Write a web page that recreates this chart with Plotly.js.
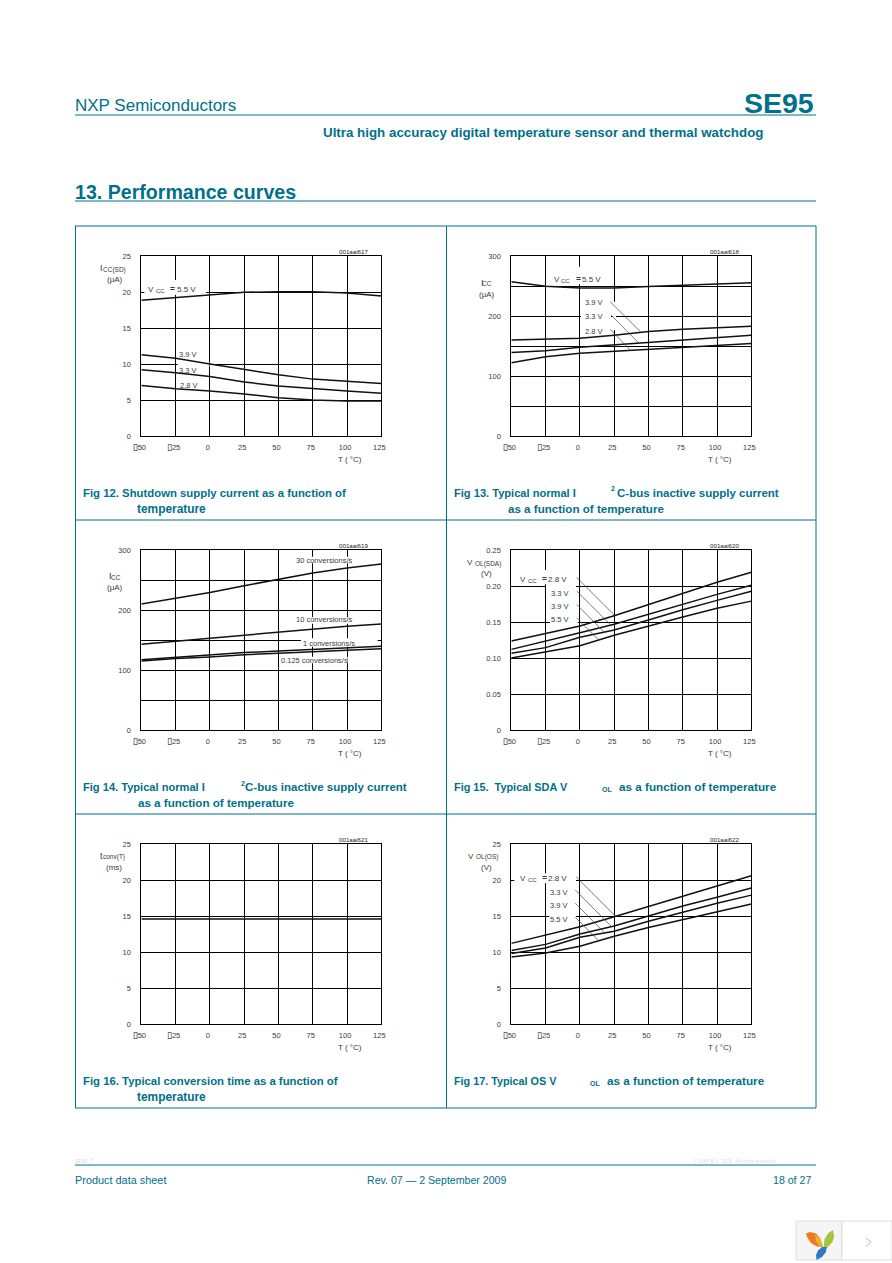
<!DOCTYPE html>
<html><head><meta charset="utf-8">
<script src="https://cdn.plot.ly/plotly-3.0.1.min.js"></script>
<style>html,body{margin:0;padding:0;background:#fff}#page{width:892px;height:1263px}</style>
</head><body><div id="page"></div>
<script>
// ---------- data ----------
const tempC = [-50,-25,0,25,50,75,100,125];
const tempTicks = [-50,-25,0,25,50,75,100,125];
const BOX = '<span style="font-family:DejaVu Sans;font-size:9px;font-weight:bold;color:#000">▯</span>';
const tempTickText = [BOX+'50',BOX+'25','0','25','50','75','100','125'];

const fig12_55 = [18.85,19.2,19.6,19.95,20.05,20.05,19.85,19.45];
const fig12_39 = [11.3,10.8,10.0,9.2,8.5,7.9,7.6,7.3];
const fig12_33 = [9.2,8.8,8.25,7.5,6.95,6.55,6.25,5.95];
const fig12_28 = [7.0,6.55,6.25,5.85,5.3,5.0,4.85,4.85];

const fig13_55 = [257,249.5,246.7,246.7,249,251.5,253.5,255.6];
const fig13_39 = [160,161,163,168,174,178,181,183];
const fig13_33 = [139,142,148,152,155.5,160.5,164,168];
const fig13_28 = [122,132,138,141,144,148,151,154];

const fig14_30 = [210,220,229,240.5,251.7,261.7,270,276.7];
const fig14_10 = [143,148,154,159,163,168,173,176.7];
const fig14_1 = [117,121,124,129,131.7,134.4,136.7,139.4];
const fig14_0125 = [115,119,121.7,125.6,127.8,130.6,132.8,135.6];

const fig15_28 = [0.1236,0.1338,0.1444,0.1588,0.1745,0.1903,0.2051,0.219];
const fig15_33 = [0.112,0.123,0.135,0.147,0.1606,0.175,0.1884,0.201];
const fig15_39 = [0.1065,0.1144,0.1287,0.139,0.1528,0.167,0.18,0.1926];
const fig15_55 = [0.1,0.108,0.117,0.1315,0.1444,0.157,0.169,0.179];

const fig16_conv = [14.6,14.6,14.6,14.6,14.6,14.6,14.6,14.6];

const fig17_28 = [11.2,12.36,13.5,14.9,16.3,17.8,19.2,20.6];
const fig17_33 = [10.2,11.06,12.5,13.6,15,16.4,17.6,18.9];
const fig17_39 = [9.8,10.56,12.04,12.87,14.26,15.56,16.76,17.9];
const fig17_55 = [9.3,9.86,10.8,12.2,13.4,14.5,15.6,16.67];

// leader lines: [x0,y0,x1,y1] in data units
const fig13_leaders = [[22,224,44.5,173],[22.7,201.7,43.3,154],[22,178,37.3,142]];
const fig15_leaders = [[-2.4,0.212,25.1,0.1597],[-2.4,0.193,23.2,0.1444],[-2.4,0.1745,17.8,0.1356],[-2.4,0.1556,13.7,0.125]];
const fig17_leaders = [[-2.8,20.46,25.8,15],[-3.3,18.6,23.2,13.5],[-3.3,16.76,17.8,12.7],[-3.3,14.8,13.7,11.6]];

const yTicks5 = [0,5,10,15,20,25];
const yText5 = ['0','5','10','15','20','25'];
const yTicks300 = [0,100,200,300];
const yText300 = ['0','100','200','300'];
const yTicksV = [0,0.05,0.10,0.15,0.20,0.25];
const yTextV = ['0','0.05','0.10','0.15','0.20','0.25'];

// ---------- page ----------
const W=892,H=1263, TEAL='#00718a', GREY='#3a3a3a';
const fx=x=>x/W, fy=y=>1-y/H;
const ann=[], shapes=[], traces=[], layout={};

function T(text,x,y,o={}){
  const a=o.a||'left';
  ann.push({text:text,xref:'paper',yref:'paper',x:fx(a==='left'?x-1:a==='right'?x+1:x),y:fy(y),showarrow:false,
    xanchor:a,yanchor:'middle',borderpad:0,
    font:{family:o.f||'"Liberation Sans",Arial,sans-serif',size:o.s||7.5,color:o.c||GREY}});
}
function L(x0,y0,x1,y1,c,w){shapes.push({type:'line',xref:'paper',yref:'paper',layer:'below',
  x0:fx(x0),y0:fy(y0),x1:fx(x1),y1:fy(y1),line:{color:c||TEAL,width:w||1}});}

function panel(n,cfg){
  const id=n===1?'':String(n), xk='xaxis'+id, yk='yaxis'+id, xr='x'+id, yr='y'+id;
  const ox=cfg.ox, oy=cfg.oy;
  const zx=z=>ox+z/3, zy=z=>oy+z/3;
  const left=zx(196), right=zx(916), top=zy(cfg.top), bot=zy(cfg.top+540);
  const ax={showgrid:true,gridcolor:'#000',gridwidth:1,showline:true,linecolor:'#000',linewidth:1,mirror:true,
    zeroline:false,ticks:'',tickfont:{family:'"Liberation Sans",Arial,sans-serif',size:7.5,color:GREY},anchor:yr};
  layout[xk]=Object.assign({},ax,{domain:[fx(left),fx(right)],range:[-50,125],tickmode:'array',
    tickvals:tempTicks,ticktext:tempTickText,ticklabelstandoff:4,ticklabelshift:-2,anchor:yr});
  layout[yk]=Object.assign({},ax,{domain:[fy(bot),fy(top)],range:cfg.range,tickmode:'array',
    tickvals:cfg.yticks,ticktext:cfg.ytext,ticklabelstandoff:8,anchor:xr});
  if(cfg.minor) layout[yk].minor={tick0:0,dtick:cfg.minor,showgrid:true,gridcolor:'#000',gridwidth:1,ticks:''};
  cfg.series.forEach(s=>traces.push({type:'scatter',mode:'lines',x:tempC,y:s,xaxis:xr,yaxis:yr,
    hoverinfo:'skip',showlegend:false,line:{color:'#111',width:1.5}}));
  (cfg.leaders||[]).forEach(l=>traces.push({type:'scatter',mode:'lines',x:[l[0],l[2]],y:[l[1],l[3]],xaxis:xr,yaxis:yr,
    hoverinfo:'skip',showlegend:false,line:{color:'#444',width:0.7}}));
  // white gaps behind the labels, above the grid and below the curves
  const dx=z=>-50+(z-196)/720*175, dy=z=>cfg.range[0]+(cfg.top+540-z)/540*(cfg.range[1]-cfg.range[0]);
  (cfg.gaps||[]).forEach(g=>shapes.push({type:'rect',xref:xr,yref:yr,layer:'between',
    x0:dx(g[0]),x1:dx(g[2]),y0:dy(g[1]),y1:dy(g[3]),fillcolor:'#fff',line:{width:0}}));
  (cfg.labels||[]).forEach(l=>T(l[0],zx(l[1]),zy(l[2]),{a:'center',s:l[3]||7.5}));
  T(cfg.id,zx(cfg.idx),zy(cfg.top-13),{a:'center',s:6.2,c:'#222'});
  T('T ( °C)',zx(821),zy(cfg.top+610),{a:'center',s:8});
  (cfg.ylab||[]).forEach(l=>T(l[0],zx(l[1]),zy(l[2]),{a:'center',s:l[3]||8}));
  (cfg.caption||[]).forEach(c=>T('<b>'+c[0]+'</b>',c[1],c[2],{s:c[3]||11.4,c:TEAL}));
}

// supply label built from separate pieces, spaced as on the page: V, CC, =, value
const VCC=(v,a,b,c,d,y)=>[['V',a,y,8],['CC',b,y+5,6],['<b>=</b>',c,y,8.5],[v,d,y,8]];
panel(1,{ox:76,oy:230,top:78,range:[0,25],yticks:yTicks5,ytext:yText5,id:'001aai617',idx:832,
  series:[fig12_55,fig12_39,fig12_33,fig12_28],
  gaps:[[205,150,390,194],[305,395,400,412]],
  labels:[...VCC('5.5 V',225,252,288,330,178),['3.9 V',337,375],['3.3 V',337,423],['2.8 V',340,465]],
  ylab:[['I',76,115,9],['CC(SD)',114,119,6.5],['(μA)',118,148]],
  caption:[['Fig 12. Shutdown supply current as a function of',83,493,11.35],['temperature',137,509,11.9]]});
panel(2,{ox:446,oy:230,top:78,range:[0,300],yticks:yTicks300,ytext:yText300,minor:50,id:'001aai618',idx:836,
  series:[fig13_55,fig13_39,fig13_33,fig13_28],leaders:fig13_leaders,
  gaps:[[320,135,465,163],[395,110,405,135],[405,250,495,270],[500,215,510,300]],
  labels:[...VCC('5.5 V',332,359,396,437,148),['3.9 V',445,218],['3.3 V',445,260],['2.8 V',445,303]],
  ylab:[['I',108,158,9],['CC',124,162,6.5],['(μA)',123,193]],
  caption:[['Fig 13. Typical normal I',454,493,11.1],['2',610.5,489,7],['C-bus inactive supply current',617,493,11.5],['as a function of temperature',508,508.5,11.6]]});
panel(3,{ox:76,oy:525,top:75,range:[0,300],yticks:yTicks300,ytext:yText300,minor:50,id:'001aai619',idx:833,
  series:[fig14_30,fig14_10,fig14_1,fig14_0125],
  gaps:[[660,95,830,115],[665,276,830,296],[675,340,905,365],[615,395,815,415]],
  labels:[['30 conversions/s',746,105],['10 conversions/s',746,285],['1 conversions/s',758,355],['0.125 conversions/s',716,405]],
  ylab:[['I',104,153,9],['CC',119,157,6.5],['(μA)',118,188]],
  caption:[['Fig 14. Typical normal I',83,787,11.1],['2',240.5,783,7],['C-bus inactive supply current',245,787,11.5],['as a function of temperature',138,802.5,11.6]]});
panel(4,{ox:446,oy:525,top:75,range:[0,0.25],yticks:yTicksV,ytext:yTextV,id:'001aai620',idx:836,
  series:[fig15_28,fig15_33,fig15_39,fig15_55],leaders:fig15_leaders,
  gaps:[[215,135,390,178],[300,178,390,190],[312,270,395,300]],
  labels:[...VCC('2.8 V',230,258,294,334,162),['3.3 V',343,206],['3.9 V',343,245],['5.5 V',343,285]],
  ylab:[['V',72,112,8],['OL(SDA)',125,116,6.5],['(V)',121,145]],
  caption:[['Fig 15.  Typical SDA V',454,787,10.9],['OL',602,789,7],['as a function of temperature',619,786.5,11.7]]});
panel(5,{ox:76,oy:820,top:72,range:[0,25],yticks:yTicks5,ytext:yText5,id:'001aai621',idx:832,
  series:[fig16_conv],
  ylab:[['t',76,108,9],['conv(T)',114,112,6.5],['(ms)',114,143]],
  caption:[['Fig 16. Typical conversion time as a function of',83,1081,11.35],['temperature',137,1097,11.9]]});
panel(6,{ox:446,oy:820,top:72,range:[0,25],yticks:yTicks5,ytext:yText5,id:'001aai622',idx:836,
  series:[fig17_28,fig17_33,fig17_39,fig17_55],leaders:fig17_leaders,
  gaps:[[205,160,390,190],[310,280,390,305]],
  labels:[...VCC('2.8 V',230,258,294,334,175),['3.3 V',340,218],['3.9 V',340,258],['5.5 V',340,297]],
  ylab:[['V',75,108,8],['OL(OS)',124,112,6.5],['(V)',121,143]],
  caption:[['Fig 17. Typical OS V',454,1081,10.8],['OL',590,1083,7],['as a function of temperature',607,1080.5,11.7]]});

// header, footer, frame
T('NXP Semiconductors',75,105,{s:17,c:TEAL});
T('<b>SE95</b>',814,103,{s:28.5,c:TEAL,a:'right'});
T('<b>Ultra high accuracy digital temperature sensor and thermal watchdog</b>',323,132,{s:13.35,c:TEAL});
T('<b>13. Performance curves</b>',75,192,{s:19.6,c:TEAL});
T('SE95_7',75,1161,{s:5,c:'#ddd'});
T('© NXP B.V. 2009. All rights reserved.',694,1161,{s:5,c:'#ddd'});
T('Product data sheet',75,1180,{s:10.9,c:TEAL});
T('Rev. 07 — 2 September 2009',367,1180,{s:10.6,c:TEAL});
T('18 of 27',811,1180,{s:10.6,c:TEAL,a:'right'});
L(75,115,816,115,TEAL,1);L(75,201,816,201,TEAL,1);L(75,1165,816,1165,TEAL,1);
[226,520,814,1108].forEach(y=>L(75,y,816,y));
[75.5,446.5,816].forEach(x=>L(x,226,x,1108));

// badge in the corner
const P=a=>a.map((p,i)=>(i?'L':'M')+fx(p[0]).toFixed(5)+','+fy(p[1]).toFixed(5)).join(' ')+' Z';
shapes.push({type:'rect',xref:'paper',yref:'paper',layer:'below',x0:fx(796),x1:fx(842),y0:fy(1221),y1:fy(1260),fillcolor:'#f5f5f5',line:{color:'#dedede',width:1}});
shapes.push({type:'rect',xref:'paper',yref:'paper',layer:'below',x0:fx(842),x1:fx(892),y0:fy(1221),y1:fy(1260),fillcolor:'#fff',line:{color:'#dedede',width:1}});
const petal=(d,c)=>shapes.push({type:'path',xref:'paper',yref:'paper',layer:'above',path:d,fillcolor:c,line:{width:0}});
petal(P([[806,1233.5],[810,1232],[816,1233.5],[820,1238],[823,1247],[817,1246.5],[811,1243],[807.5,1238]]),'#ee7a1e');
petal(P([[815,1234.5],[819,1237.5],[823,1247],[819,1246],[816,1241]]),'#f4b32c');
petal(P([[833,1230],[834.2,1236],[832.5,1242],[826,1249],[823.8,1246],[824.5,1239],[828.5,1233]]),'#a6c437');
petal(P([[826.5,1247],[826,1252],[822,1257],[816.5,1260],[816,1255],[818,1250.5],[822,1247]]),'#2f79c4');
shapes.push({type:'path',xref:'paper',yref:'paper',layer:'above',path:P([[866,1238],[871,1242],[866,1246.5]]).replace(' Z',''),line:{color:'#bbb',width:1}});

Object.assign(layout,{width:W,height:H,margin:{l:0,r:0,t:0,b:0,pad:0},paper_bgcolor:'#fff',plot_bgcolor:'#fff',
  showlegend:false,annotations:ann,shapes:shapes});
Plotly.newPlot('page',traces,layout,{displayModeBar:false,staticPlot:true});
</script></body></html>
